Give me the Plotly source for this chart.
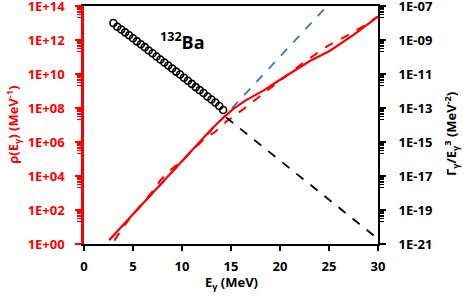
import plotly.graph_objects as go

# Gamma strength data (right axis), E in MeV
exp_E = [3.0, 3.4, 3.8, 4.2, 4.6, 5.0, 5.4, 5.8, 6.2, 6.6, 7.0, 7.4, 7.8, 8.2, 8.6,
         9.0, 9.4, 9.8, 10.2, 10.6, 11.0, 11.4, 11.8, 12.2, 12.6, 13.0, 13.4, 13.8, 14.2]
exp_logf = [-8.00, -8.22, -8.38, -8.55, -8.72, -8.90, -9.08, -9.25, -9.42, -9.62,
            -9.78, -9.97, -10.15, -10.32, -10.50, -10.68, -10.86, -11.03, -11.22, -11.40,
            -11.58, -11.77, -11.95, -12.12, -12.32, -12.50, -12.68, -12.88, -13.12]
extrap_E = [14.5, 30.0]
extrap_logf = [-13.55, -20.7]

# Level density (left axis)
rho_E = [2.58, 5.0, 8.0, 11.0, 13.0, 14.0, 14.8, 15.24, 16.5, 18.3, 20.0, 21.7, 23.0, 25.1, 27.5, 30.0]
rho_log = [0.23, 1.75, 3.64, 5.52, 6.75, 7.32, 7.72, 7.95, 8.45, 9.02, 9.66, 10.29, 10.75, 11.37, 12.3, 13.37]
rhod_E = [3.1, 4.0, 5.0, 6.2, 7.1, 7.8, 8.8, 9.8, 10.7, 11.5, 12.4, 13.4, 14.5, 16.3, 18.3, 20.0, 22.4, 25.0, 27.0, 28.85, 30.0]
rhod_log = [0.2, 1.0, 1.75, 2.58, 3.16, 3.75, 4.34, 4.8, 5.3, 5.8, 6.25, 6.6, 7.2, 7.95, 8.83, 9.6, 10.68, 11.7, 12.3, 12.93, 13.4]
ct_E = [2.58, 24.8]
ct_log = [0.23, 14.0]

left_ticks = [0, 2, 4, 6, 8, 10, 12, 14]
left_text = ["1E+00", "1E+02", "1E+04", "1E+06", "1E+08", "1E+10", "1E+12", "1E+14"]
right_ticks = [-21, -19, -17, -15, -13, -11, -9, -7]
right_text = ["1E-21", "1E-19", "1E-17", "1E-15", "1E-13", "1E-11", "1E-09", "1E-07"]
x_ticks = [0, 5, 10, 15, 20, 25, 30]

p10 = lambda v: [10.0 ** a for a in v]

left_minor = [k * 10.0 ** e for e in range(1, 14, 2) for k in range(2, 10)]
right_minor = [k * 10.0 ** e for e in range(-20, -7, 2) for k in range(2, 10)]

FONT = "Open Sans"
fig = go.Figure()
fig.add_trace(go.Scatter(x=ct_E, y=p10(ct_log), mode="lines",
                         line=dict(color="#4472C4", width=1.8, dash="dash"), yaxis="y"))
fig.add_trace(go.Scatter(x=rhod_E, y=p10(rhod_log), mode="lines",
                         line=dict(color="#FF0000", width=2, dash="dash"), yaxis="y"))
fig.add_trace(go.Scatter(x=rho_E, y=p10(rho_log), mode="lines",
                         line=dict(color="#FF0000", width=2.2), yaxis="y"))
fig.add_trace(go.Scatter(x=extrap_E, y=p10(extrap_logf), mode="lines",
                         line=dict(color="black", width=1.8, dash="dash"), yaxis="y2"))
fig.add_trace(go.Scatter(x=exp_E, y=p10(exp_logf), mode="markers",
                         marker=dict(symbol="circle-open", size=7, color="black",
                                     line=dict(width=1.6, color="black")), yaxis="y2"))

fig.update_layout(
    width=463, height=296,
    margin=dict(l=84, r=85, t=6, b=52),
    paper_bgcolor="white", plot_bgcolor="white",
    showlegend=False,
    font=dict(family=FONT, size=13, color="black", weight="bold"),
    xaxis=dict(range=[0, 30], tickvals=x_ticks, showgrid=False, zeroline=False,
               automargin=False, ticklabeloverflow="allow",
               showline=True, linecolor="black", linewidth=2, mirror=True,
               ticks="outside", ticklen=5, tickwidth=1.5, tickcolor="black",
               tickfont=dict(family=FONT, size=13, color="black", weight="bold"),
               ticklabelstandoff=4),
    yaxis=dict(type="log", range=[-0.0005, 14.0005], tickvals=p10(left_ticks), ticktext=left_text,
               automargin=False, ticklabeloverflow="allow",
               showgrid=False, zeroline=False, showline=True, linecolor="#FF0000", linewidth=2.5,
               ticks="outside", ticklen=6, tickwidth=2, tickcolor="#FF0000",
               minor=dict(tickvals=left_minor, ticks="outside", ticklen=4, tickwidth=1,
                          tickcolor="#FF0000", showgrid=False),
               tickfont=dict(family=FONT, size=13, color="#FF0000", weight="bold"),
               ticklabelstandoff=8),
    yaxis2=dict(type="log", range=[-21.0005, -6.9995], overlaying="y", side="right",
                automargin=False, ticklabeloverflow="allow",
                tickvals=p10(right_ticks), ticktext=right_text,
                showgrid=False, zeroline=False, showline=True, linecolor="black", linewidth=2,
                ticks="outside", ticklen=6, tickwidth=2, tickcolor="black",
                minor=dict(tickvals=right_minor, ticks="outside", ticklen=4, tickwidth=1,
                           tickcolor="black", showgrid=False),
                tickfont=dict(family=FONT, size=13, color="black", weight="bold"),
                ticklabelstandoff=10),
    annotations=[
        dict(x=10.0, y=0.915, xref="x", yref="paper",
             text="<sup>132</sup>Ba", showarrow=False,
             font=dict(family=FONT, size=18, color="black", weight="bold")),
        dict(x=(12.7 - 84) / 294, y=(244 - 125) / 238, xref="paper", yref="paper",
             text="ρ(E<sub>γ</sub>) (MeV<sup>-1</sup>)", textangle=-90, showarrow=False,
             xanchor="center", yanchor="middle",
             font=dict(family=FONT, size=13, color="#FF0000", weight="bold")),
        dict(x=(451 - 84) / 294, y=(244 - 134) / 238, xref="paper", yref="paper",
             text="Γ<sub>γ</sub>/E<sub>γ</sub><sup>3</sup> (MeV<sup>-2</sup>)", textangle=-90,
             showarrow=False, xanchor="center", yanchor="middle",
             font=dict(family=FONT, size=13, color="black", weight="bold")),
        dict(x=15, y=(244 - 283) / 238, xref="x", yref="paper",
             text="E<sub>γ</sub> (MeV)", showarrow=False,
             xanchor="center", yanchor="middle",
             font=dict(family=FONT, size=13, color="black", weight="bold")),
    ],
)

fig.write_html("out.html", config={"displayModeBar": False},
               post_script="document.body.style.margin='0';document.body.style.padding='0';")
